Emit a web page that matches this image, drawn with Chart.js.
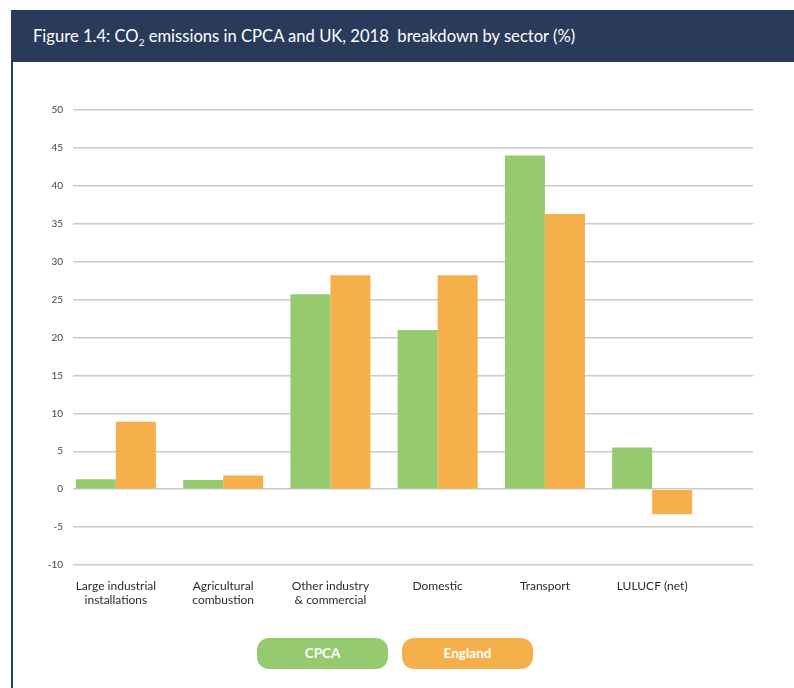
<!DOCTYPE html>
<html>
<head>
<meta charset="utf-8">
<script src="https://cdn.jsdelivr.net/npm/chart.js@4.4.1/dist/chart.umd.min.js"></script>
<style>
  html, body { margin: 0; padding: 0; background: #fff; }
  body { width: 794px; height: 688px; position: relative; overflow: hidden; font-family: Lato, "Open Sans", sans-serif; }
  #entete {
    position: absolute; left: 11px; top: 10px; width: 783px; height: 52px;
    background: #293a5b; color: #fff; font-size: 16.6px;
    box-sizing: border-box; padding-left: 22px; line-height: 52px;
  }
  #entete sub { font-size: 10px; vertical-align: -4px; line-height: 0; }
  #bordure { position: absolute; left: 11px; top: 62px; width: 2px; height: 626px; background: #293a5b; }
  #graphContainer { position: absolute; left: 0; top: 62px; width: 794px; height: 560px; }
  #legendContainer { position: absolute; top: 638px; left: 257px; display: flex; gap: 14px; }
  .legend-item {
    width: 131px; height: 31px; border-radius: 12px; color: #fff;
    font-weight: bold; font-size: 13.5px; text-align: center; line-height: 31px;
  }
</style>
</head>
<body>
<div id="entete">Figure 1.4: CO<sub>2</sub> emissions in CPCA and UK, 2018&nbsp; breakdown by sector (%)</div>
<div id="bordure"></div>
<div id="graphContainer"><canvas id="secteurGraph" width="794" height="560"></canvas></div>
<div id="legendContainer"></div>

<script>
// secteurs et valeurs (%)
const secteurs = [
  ['Large industrial', 'installations'],
  ['Agricultural', 'combustion'],
  ['Other industry', '& commercial'],
  ['Domestic'],
  ['Transport'],
  ['LULUCF (net)']
];
const cpca = [1.3, 1.2, 25.7, 21, 44, 5.5];
const england = [8.9, 1.8, 28.2, 28.2, 36.3, -3.3];
const yTicks = [50, 45, 40, 35, 30, 25, 20, 15, 10, 5, 0, -5, -10];

const vert = '#96ca6f';
const orange = '#f5b04b';

// points {x: index, y: valeur} pour l'axe x linéaire
const toPoints = arr => arr.map((v, i) => ({x: i, y: v}));

const ctx = document.getElementById('secteurGraph').getContext('2d');

new Chart(ctx, {
  type: 'bar',
  data: {
    datasets: [
      { label: 'CPCA', data: toPoints(cpca), backgroundColor: vert, barPercentage: 1, categoryPercentage: 0.746 },
      { label: 'England', data: toPoints(england), backgroundColor: orange, barPercentage: 1, categoryPercentage: 0.746 }
    ]
  },
  options: {
    responsive: false,
    animation: false,
    maintainAspectRatio: false,
    layout: { padding: { top: 48, right: 41, left: 0, bottom: 0 } },
    plugins: { legend: { display: false }, tooltip: { enabled: false } },
    scales: {
      x: {
        type: 'linear',
        bounds: 'data',
        offset: false,
        min: -0.4,
        max: 5.94,
        afterBuildTicks: scale => { scale.ticks = secteurs.map((s, i) => ({value: i})); },
        afterFit: scale => { scale.height = 57; },
        grid: { display: false, drawTicks: false },
        border: { display: false },
        ticks: {
          autoSkip: false,
          maxRotation: 0,
          padding: 14,
          color: '#2b2b2b',
          font: { family: 'Lato', size: 12 },
          callback: v => secteurs[v]
        }
      },
      y: {
        min: -10,
        max: 50,
        z: 1,
        afterBuildTicks: scale => { scale.ticks = yTicks.map(v => ({value: v})); },
        afterFit: scale => { scale.width = 73; },
        grid: { color: 'rgba(150,150,150,0.5)', lineWidth: 1.5, drawTicks: false },
        border: { display: false },
        ticks: { padding: 10, color: '#444', font: { family: 'Lato', size: 10 } }
      }
    }
  }
});

// légende en boutons
document.getElementById('legendContainer').innerHTML = `
  <div class="legend-item" style="background-color:${vert}">CPCA</div>
  <div class="legend-item" style="background-color:${orange}">England</div>
`;
</script>
</body>
</html>
